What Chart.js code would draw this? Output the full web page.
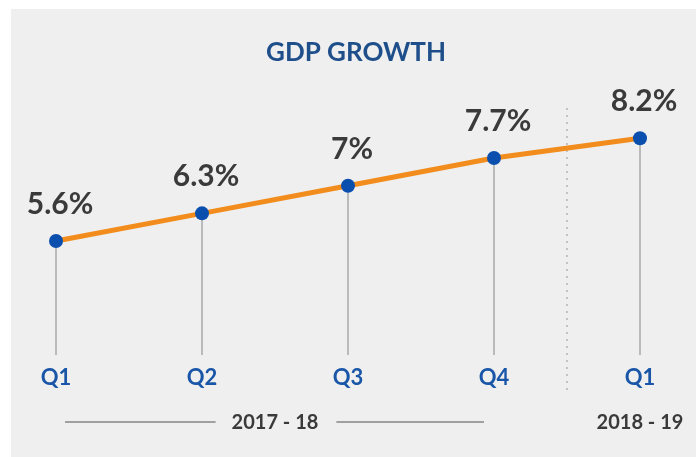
<!DOCTYPE html>
<html>
<head>
<meta charset="utf-8">
<script src="https://cdn.jsdelivr.net/npm/chart.js@4"></script>
<style>
html,body{margin:0;padding:0;background:#ffffff;}
#wrap{width:696px;height:457px;position:relative;}
</style>
</head>
<body>
<div id="wrap"><canvas id="c" width="696" height="457"></canvas></div>
<script>
const chartTitle = 'GDP GROWTH';
const categories = ['Q1', 'Q2', 'Q3', 'Q4', 'Q1'];
const gdpGrowth = [5.6, 6.3, 7.0, 7.7, 8.2];
const valueLabels = ['5.6%', '6.3%', '7%', '7.7%', '8.2%'];
const periodLabels = ['2017 - 18', '2018 - 19'];

const decor = {
  id: 'decor',
  beforeDraw(chart) {
    const ctx = chart.ctx;
    ctx.save();
    ctx.fillStyle = '#efefef';
    ctx.fillRect(11, 9, 685, 448);
    ctx.restore();
  },
  beforeDatasetsDraw(chart) {
    const ctx = chart.ctx;
    const area = chart.chartArea;
    const xs = chart.scales.x;
    const meta = chart.getDatasetMeta(0);
    ctx.save();
    ctx.strokeStyle = '#a9a9a9';
    ctx.lineWidth = 1.5;
    meta.data.forEach(pt => {
      ctx.beginPath();
      ctx.moveTo(pt.x, pt.y);
      ctx.lineTo(pt.x, area.bottom);
      ctx.stroke();
    });
    const sx = xs.getPixelForValue(3.5);
    ctx.strokeStyle = '#b5b5b5';
    ctx.lineWidth = 1.5;
    ctx.setLineDash([2, 5]);
    ctx.beginPath();
    ctx.moveTo(sx, 108);
    ctx.lineTo(sx, 390);
    ctx.stroke();
    ctx.setLineDash([]);
    ctx.restore();
  },
  afterDatasetsDraw(chart) {
    const ctx = chart.ctx;
    const xs = chart.scales.x;
    const meta = chart.getDatasetMeta(0);
    ctx.save();
    ctx.fillStyle = '#1f4f8b';
    ctx.font = 'bold 26px Lato';
    ctx.textAlign = 'center';
    ctx.textBaseline = 'middle';
    ctx.fillText(chartTitle, 356, 53);
    ctx.fillStyle = '#3a3a3a';
    ctx.font = 'bold 30px Lato';
    ctx.textBaseline = 'alphabetic';
    meta.data.forEach((pt, i) => {
      ctx.fillText(valueLabels[i], pt.x + 4, pt.y - 27);
    });
    ctx.fillStyle = '#1a56a8';
    ctx.font = 'bold 22px Lato';
    ctx.textBaseline = 'middle';
    categories.forEach((c, i) => {
      ctx.fillText(c, xs.getPixelForValue(i), 378);
    });
    ctx.fillStyle = '#3a3a3a';
    ctx.font = 'bold 20px Lato';
    const yy = 423;
    const c1 = xs.getPixelForValue(1.5);
    ctx.fillText(periodLabels[0], c1, yy);
    const w1 = ctx.measureText(periodLabels[0]).width;
    ctx.fillText(periodLabels[1], xs.getPixelForValue(4), yy);
    ctx.strokeStyle = '#a0a0a0';
    ctx.lineWidth = 2;
    ctx.beginPath();
    ctx.moveTo(xs.getPixelForValue(0) + 9, yy - 1);
    ctx.lineTo(c1 - w1 / 2 - 16, yy - 1);
    ctx.moveTo(c1 + w1 / 2 + 18, yy - 1);
    ctx.lineTo(xs.getPixelForValue(3) - 10, yy - 1);
    ctx.stroke();
    ctx.restore();
  }
};

new Chart(document.getElementById('c'), {
  type: 'line',
  data: {
    labels: categories,
    datasets: [{
      data: gdpGrowth,
      borderColor: '#f28c1c',
      borderWidth: 5,
      tension: 0,
      pointRadius: 7,
      pointBackgroundColor: '#0b4fae',
      pointBorderWidth: 0,
      fill: false
    }]
  },
  options: {
    responsive: false,
    animation: false,
    layout: { padding: { left: 56, right: 56, top: 67, bottom: 102 } },
    scales: {
      x: { display: false },
      y: { display: false, min: 2.72, max: 10 }
    },
    plugins: { legend: { display: false }, tooltip: { enabled: false }, title: { display: false } }
  },
  plugins: [decor]
});
</script>
</body>
</html>
